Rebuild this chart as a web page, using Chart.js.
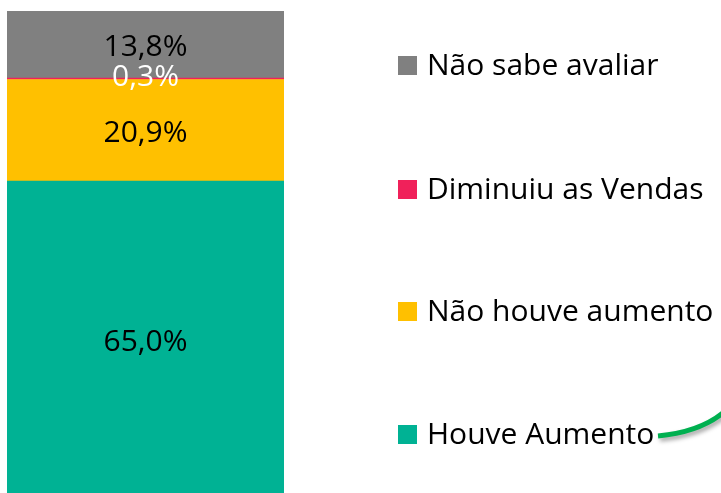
<!DOCTYPE html>
<html lang="pt">
<head>
<meta charset="UTF-8" />
<title>Vendas</title>
<script src="https://cdn.jsdelivr.net/npm/chart.js"></script>
<style>
  html, body { margin: 0; padding: 0; background: #fff; }
  #wrap { width: 721px; height: 493px; overflow: hidden; }
</style>
</head>
<body>
<div id="wrap"><canvas id="chart" width="721" height="497"></canvas></div>
<script>
// series, bottom to top
const categories = [""];
const seriesNames = ["Houve Aumento", "Não houve aumento", "Diminuiu as Vendas", "Não sabe avaliar"];
const seriesValues = [65.0, 20.9, 0.3, 13.8];
const seriesColors = ["#00B294", "#FFC000", "#F0215A", "#808080"];
const labelColors = ["#000", "#000", "#fff", "#000"];

const FONT = "'Open Sans', sans-serif";

// value labels in the middle of each segment
const valueLabels = {
  id: "valueLabels",
  afterDatasetsDraw(chart) {
    const ctx = chart.ctx;
    ctx.save();
    ctx.font = "30px " + FONT;
    ctx.textAlign = "center";
    ctx.textBaseline = "middle";
    chart.data.datasets.forEach((ds, i) => {
      const bar = chart.getDatasetMeta(i).data[0];
      const mid = (bar.y + bar.base) / 2;
      const nudge = i === 2 ? -1 : 3; // tiny slice label sits a bit higher
      ctx.fillStyle = labelColors[i];
      ctx.fillText(ds.data[0].toFixed(1).replace(".", ",") + "%", bar.x, mid + nudge);
    });
    ctx.restore();
  }
};

// legend on the right, top item = last series
const sideLegend = {
  id: "sideLegend",
  afterDraw(chart) {
    const ctx = chart.ctx;
    ctx.save();
    ctx.font = "30px " + FONT;
    ctx.textBaseline = "middle";
    const ys = [434, 311, 189, 65];
    chart.data.datasets.forEach((ds, i) => {
      ctx.fillStyle = ds.backgroundColor;
      ctx.fillRect(398, ys[i] - 9, 19, 19);
      ctx.fillStyle = "#000";
      ctx.fillText(ds.label, 427, ys[i] + 1);
    });

    // green stroke at the corner
    ctx.shadowColor = "rgba(0,0,0,0.35)";
    ctx.shadowBlur = 4;
    ctx.shadowOffsetX = 2;
    ctx.shadowOffsetY = 3;
    ctx.strokeStyle = "#00B050";
    ctx.lineWidth = 5;
    ctx.beginPath();
    ctx.moveTo(658, 436);
    ctx.quadraticCurveTo(700, 432, 724, 412);
    ctx.stroke();
    ctx.restore();
  }
};

new Chart(document.getElementById("chart"), {
  type: "bar",
  data: {
    labels: categories,
    datasets: seriesNames.map((name, i) => ({
      label: name,
      data: [seriesValues[i]],
      backgroundColor: seriesColors[i],
      borderWidth: 0,
      barPercentage: 1,
      categoryPercentage: 1
    }))
  },
  options: {
    responsive: false,
    animation: false,
    layout: { padding: { left: 7, top: 11, right: 437, bottom: 0 } },
    scales: {
      x: { stacked: true, display: false },
      y: { stacked: true, display: false, min: 0, max: 100 }
    },
    plugins: {
      legend: { display: false },
      tooltip: { enabled: false }
    }
  },
  plugins: [valueLabels, sideLegend]
});
</script>
</body>
</html>
